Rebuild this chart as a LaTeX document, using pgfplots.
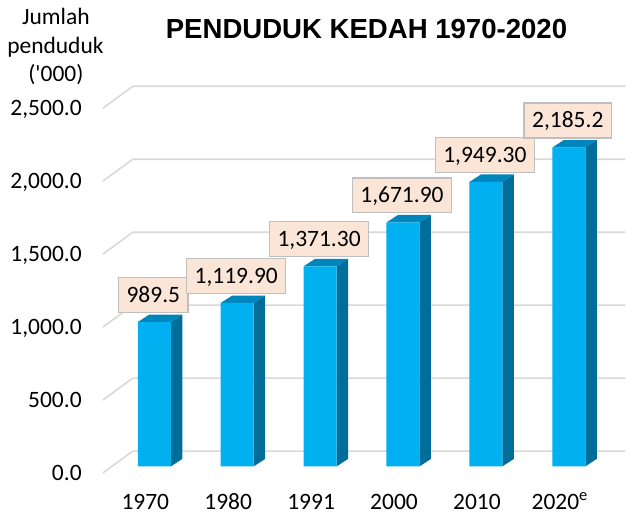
\documentclass[border=0pt]{standalone}
\usepackage{fontspec}
\setmainfont{Carlito}
\newfontfamily\plainc{Carlito}[Ligatures=TeXOff]
\newfontfamily\arialfont{Liberation Sans}
\usepackage{pgfplots}
\usepackage{pgfplotstable}
\pgfplotsset{compat=1.18}
\definecolor{frontc}{RGB}{0,176,240}
\definecolor{sidec}{RGB}{0,110,152}
\definecolor{topc}{RGB}{0,134,188}
\definecolor{gridc}{RGB}{217,217,217}
\definecolor{boxfill}{RGB}{251,229,214}
\definecolor{boxdraw}{RGB}{191,191,191}
\pgfplotstableread{
x v label
0 989.5 989.5
1 1119.9 1,119.90
2 1371.3 1,371.30
3 1671.9 1,671.90
4 1949.3 1,949.30
5 2185.2 2,185.2
}\data
\begin{document}
\begin{tikzpicture}
\begin{axis}[
  at={(82pt,0pt)}, anchor=south west,
  scale only axis, width=544pt, height=515pt,
  xmin=-0.8735, xmax=5.6807, ymin=-328.5, ymax=3196.4,
  clip=false,
  axis line style={draw=none}, tick style={draw=none}, major tick length=0pt,
  xtick={0,1,2,3,4,5},
  xticklabels={1970,1980,1991,2000,2010,2020\textsuperscript{e}},
  xticklabel style={anchor=base, yshift=5pt, xshift=-9pt, inner sep=0pt, font=\fontsize{23.5}{28}\selectfont},
  ytick={-45,455,955,1455,1955,2455},
  yticklabels={0.0,500.0,{1,000.0},{1,500.0},{2,000.0},{2,500.0}},
  yticklabel style={anchor=east, inner sep=0pt, text depth=0pt, font=\fontsize{23.5}{28}\selectfont},
]
% gridlines (front diagonal + back wall)
\addplot[gridc, line width=1.6pt] coordinates {(-0.6205,-45) (-0.259,105) (5.6807,105)};
\addplot[gridc, line width=1.6pt] coordinates {(-0.6205,455) (-0.259,605) (5.6807,605)};
\addplot[gridc, line width=1.6pt] coordinates {(-0.6205,955) (-0.259,1105) (5.6807,1105)};
\addplot[gridc, line width=1.6pt] coordinates {(-0.6205,1455) (-0.259,1605) (5.6807,1605)};
\addplot[gridc, line width=1.6pt] coordinates {(-0.6205,1955) (-0.259,2105) (5.6807,2105)};
\addplot[gridc, line width=1.6pt] coordinates {(-0.6205,2455) (-0.259,2605) (5.6807,2605)};
% side faces
\addplot[fill=sidec, draw=none] coordinates {(0.199,0) (0.3376,51.3) (0.3376,1040.8) (0.199,989.5)};
\addplot[fill=sidec, draw=none] coordinates {(1.199,0) (1.3376,51.3) (1.3376,1171.2) (1.199,1119.9)};
\addplot[fill=sidec, draw=none] coordinates {(2.199,0) (2.3376,51.3) (2.3376,1422.6) (2.199,1371.3)};
\addplot[fill=sidec, draw=none] coordinates {(3.199,0) (3.3376,51.3) (3.3376,1723.2) (3.199,1671.9)};
\addplot[fill=sidec, draw=none] coordinates {(4.199,0) (4.3376,51.3) (4.3376,2000.6) (4.199,1949.3)};
\addplot[fill=sidec, draw=none] coordinates {(5.199,0) (5.3376,51.3) (5.3376,2236.5) (5.199,2185.2)};
% top faces
\addplot[fill=topc, draw=none] coordinates {(-0.199,989.5) (0.199,989.5) (0.3376,1040.8) (-0.0604,1040.8)};
\addplot[fill=topc, draw=none] coordinates {(0.801,1119.9) (1.199,1119.9) (1.3376,1171.2) (0.9396,1171.2)};
\addplot[fill=topc, draw=none] coordinates {(1.801,1371.3) (2.199,1371.3) (2.3376,1422.6) (1.9396,1422.6)};
\addplot[fill=topc, draw=none] coordinates {(2.801,1671.9) (3.199,1671.9) (3.3376,1723.2) (2.9396,1723.2)};
\addplot[fill=topc, draw=none] coordinates {(3.801,1949.3) (4.199,1949.3) (4.3376,2000.6) (3.9396,2000.6)};
\addplot[fill=topc, draw=none] coordinates {(4.801,2185.2) (5.199,2185.2) (5.3376,2236.5) (4.9396,2236.5)};
% front faces with data labels
\addplot[ybar, bar width=0.398, bar shift=0pt, fill=frontc, draw=none,
  nodes near coords, point meta=explicit symbolic,
  nodes near coords style={anchor=south, yshift=9pt, xshift=-1pt,
    fill=boxfill, draw=boxdraw, line width=1.4pt, inner xsep=8pt, inner ysep=0pt,
    minimum height=35pt, text height=15pt, text depth=0pt,
    font=\fontsize{23.5}{28}\selectfont, text=black}]
  table[x=x, y=v, meta=label] {\data};
\end{axis}
\node[font=\arialfont\bfseries\fontsize{27.6}{32}\selectfont, anchor=base] at (367pt,476pt) {PENDUDUK KEDAH 1970-2020};
\node[font=\fontsize{23.5}{28}\selectfont, anchor=base, inner sep=0pt] at (56pt,490pt) {Jumlah};
\node[font=\fontsize{23.5}{28}\selectfont, anchor=base, inner sep=0pt] at (55.5pt,461pt) {penduduk};
\node[font=\plainc\fontsize{23.5}{28}\selectfont, anchor=base, inner sep=0pt] at (56pt,433pt) {('000)};
\path (0,0) rectangle (626pt,515pt);
\end{tikzpicture}
\end{document}
